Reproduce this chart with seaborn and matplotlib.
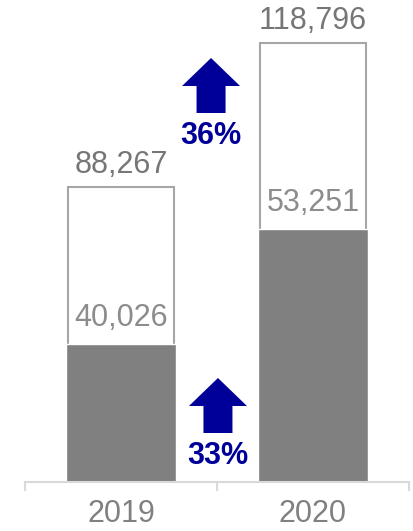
import numpy as np
import matplotlib
matplotlib.use("Agg")
import matplotlib.pyplot as plt
import matplotlib.patches as mpatches
import seaborn as sns

# data
years = ["2019", "2020"]
filled_values = [40026, 53251]
total_values = [88267, 118796]
growth_labels = ["33%", "36%"]
# the source chart is not drawn to scale: bar heights
filled_height = [138, 253]
total_height = [295, 439]

sns.set_theme(style="white")
plt.rcParams["font.family"] = ["Liberation Sans", "DejaVu Sans"]

fig = plt.figure(figsize=(4.13, 5.31), dpi=100)
ax = fig.add_axes([25 / 413, 49 / 531, 384 / 413, 482 / 531])

# outlined totals behind, solid bars in front
sns.barplot(x=years, y=total_height, color="white", saturation=1,
            edgecolor="#A6A6A6", linewidth=1.5, width=0.55, ax=ax, zorder=1)
sns.barplot(x=years, y=filled_height, color="#808080", saturation=1,
            width=0.57, ax=ax, zorder=2)

ax.set_xlim(-0.5, 1.5)
ax.set_ylim(0, 482)
ax.set_yticks([])
ax.set_xlabel("")
ax.set_ylabel("")
for s in ["left", "right", "top"]:
    ax.spines[s].set_visible(False)
ax.spines["bottom"].set_color("#D9D9D9")
ax.spines["bottom"].set_linewidth(1.5)

ax.set_xticks([-0.5, 0.5, 1.5], minor=True)
ax.tick_params(axis="x", which="minor", length=6.5, width=1.5,
               color="#D9D9D9", direction="out", bottom=True)
ax.tick_params(axis="x", which="major", length=0, pad=12,
               labelsize=22, labelcolor="#808080")

for i, (fv, tv, fh, th) in enumerate(zip(filled_values, total_values,
                                         filled_height, total_height)):
    ax.annotate(f"{tv:,}", xy=(i, th), xytext=(0, 14),
                textcoords="offset pixels", ha="center", va="baseline",
                fontsize=22, color="#767676")
    ax.annotate(f"{fv:,}", xy=(i, fh), xytext=(0, 18),
                textcoords="offset pixels", ha="center", va="baseline",
                fontsize=22, color="#8C8C8C", zorder=3)

# growth arrows between the bars
blue = "#000099"
px = 1 / 192  # one pixel in x data units
arrow_specs = [
    # label, x, arrow base y, label y
    (growth_labels[0], 0.505, 49, 26),
    (growth_labels[1], 0.469, 369, 346),
]
for lab, x, y0, ty in arrow_specs:
    arr = mpatches.FancyArrow(x, y0, 0, 55, width=29 * px,
                              head_width=58 * px, head_length=28,
                              length_includes_head=True,
                              color=blue, lw=0, zorder=4)
    ax.add_patch(arr)
    ax.text(x, ty, lab, ha="center", va="center", fontsize=22,
            fontweight="bold", color=blue)

fig.savefig("out.png", dpi=100)
